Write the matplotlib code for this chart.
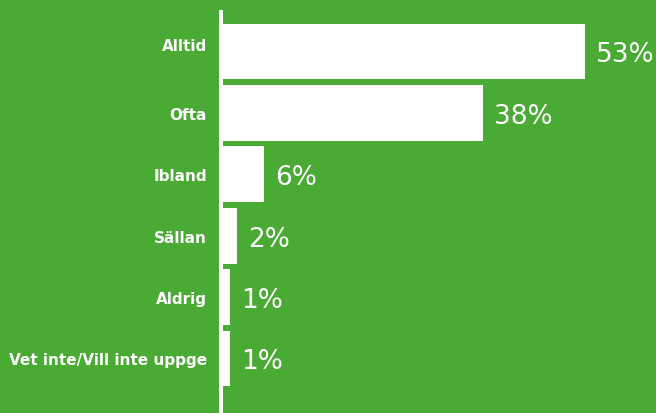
import matplotlib.pyplot as plt
from matplotlib.transforms import ScaledTranslation

categories = ['Alltid', 'Ofta', 'Ibland', 'Sällan', 'Aldrig', 'Vet inte/Vill inte uppge']
values = [53, 38, 6, 2, 1, 1]
value_labels = ['53%', '38%', '6%', '2%', '1%', '1%']

green = '#4aab34'
plt.rcParams['font.family'] = ['DejaVu Sans']

fig = plt.figure(figsize=(6.56, 4.14), dpi=100, facecolor=green)
# axes starts at the white axis line (x=221px), runs to bottom edge
ax = fig.add_axes([221 / 656, 0, 1 - 221 / 656, 1 - 13 / 414])
ax.set_facecolor(green)

px = 6.83  # pixels per percent
y = list(range(len(categories)))
ax.barh(y, values, height=0.91, color='white', left=0)

for i, (v, lab) in enumerate(zip(values, value_labels)):
    ax.annotate(lab, (v, i), xytext=(11, -10), textcoords='offset pixels',
                va='baseline', ha='left', color='white', fontsize=19)

ax.set_xlim(-2 / px, (656 - 221 - 2) / px)
ax.set_ylim(5.888, -0.643)

for s in ['top', 'right', 'bottom']:
    ax.spines[s].set_visible(False)
ax.spines['left'].set_color('white')
ax.spines['left'].set_linewidth(2.9)

ax.set_xticks([])
ax.set_yticks(y)
ax.set_yticklabels(categories, color='white', fontsize=11, fontweight='bold')
ax.tick_params(axis='y', length=0, pad=10)

# first label sits a bit higher in the original
first = ax.get_yticklabels()[0]
first.set_transform(first.get_transform() + ScaledTranslation(0, 7 / 100, fig.dpi_scale_trans))

fig.savefig('out.png', dpi=100, facecolor=green)
